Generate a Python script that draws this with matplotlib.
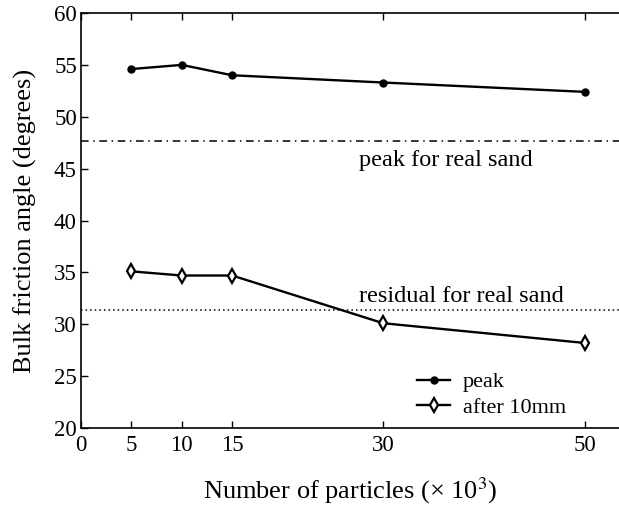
import matplotlib
matplotlib.use("Agg")
import matplotlib.pyplot as plt

# Bulk friction angle vs. number of particles
particles = [5, 10, 15, 30, 50]
peak = [54.6, 55.0, 54.0, 53.3, 52.4]
after_10mm = [35.1, 34.7, 34.7, 30.1, 28.2]
peak_real_sand = 47.7
residual_real_sand = 31.4
x_ticks = [0, 5, 10, 15, 30, 50]
y_ticks = [20, 25, 30, 35, 40, 45, 50, 55, 60]

plt.rcParams["font.family"] = ["Liberation Serif", "DejaVu Serif"]
plt.rcParams["mathtext.fontset"] = "stix"

fig = plt.figure(figsize=(6.19, 5.12), dpi=100)
ax = fig.add_axes([0.1309, 0.164, 0.8691, 0.8106])

ax.plot(particles, peak, color="black", lw=1.7, marker="o", ms=5,
        label="peak")
ax.plot(particles, after_10mm, color="black", lw=1.7, marker="d", ms=7.5,
        mfc="white", mec="black", mew=1.6, label="after 10mm")

ax.axhline(peak_real_sand, color="black", lw=1.1, ls=(0, (5, 3, 1, 3)))
ax.axhline(residual_real_sand, color="black", lw=1.1, ls=(0, (1, 2)))

ax.text(36.2, 45.8, "peak for real sand", ha="center", va="center",
        fontsize=17.5)
ax.text(37.8, 32.7, "residual for real sand", ha="center", va="center",
        fontsize=17.5)

ax.set_xlim(0, 53.4)
ax.set_ylim(20, 60)
ax.set_xticks(x_ticks)
ax.set_yticks(y_ticks)
ax.tick_params(axis="both", direction="in", length=5, width=1,
               labelsize=16.5, top=True)
ax.tick_params(axis="x", pad=5)
ax.tick_params(axis="y", pad=3)
ax.spines["right"].set_visible(False)
for s in ("left", "bottom", "top"):
    ax.spines[s].set_linewidth(1.2)

ax.set_xlabel("Number of particles (× 10$^{3}$)", fontsize=19, labelpad=14)
ax.set_ylabel("Bulk friction angle (degrees)", fontsize=19, labelpad=12)

ax.legend(loc="center left", bbox_to_anchor=(0.6245, 0.0795), frameon=False,
          fontsize=16, handlelength=1.5, handletextpad=0.55,
          labelspacing=0.23, borderaxespad=0, borderpad=0)

fig.savefig("out.png", dpi=100)
